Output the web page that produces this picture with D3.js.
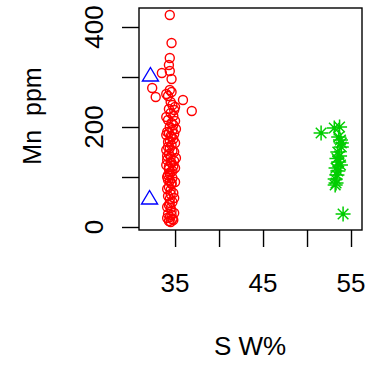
<!DOCTYPE html>
<html>
<head>
<meta charset="utf-8">
<script src="https://cdn.jsdelivr.net/npm/d3@7"></script>
<style>
  body { margin: 0; background: #fff; }
  text { font-family: "Liberation Sans", Arial, sans-serif; fill: #000; }
</style>
</head>
<body>
<svg id="chart" width="369" height="366"></svg>
<script>
// red circles (group 1)
const redPts = [
  [34.4,424],[34.6,368],[34.4,338],[34.3,324],[33.5,308],[34.4,312],[34.6,296],
  [32.4,278],[32.8,260],[34.4,274],[35.9,254],[36.9,232],[34.2,262],[34.5,250],
  [34.7,244],[34.3,236],[34.5,228],[34.8,222],[34.2,214],[34.6,208],[34.4,200],
  [34.7,194],[34.3,188],[34.5,182],[34.8,176],[34.2,170],[34.6,164],[34.4,158],
  [34.7,152],[34.3,146],[34.5,140],[34.1,134],[34.6,128],[34.8,122],[34.3,116],
  [34.5,110],[34.2,104],[34.7,98],[34.4,92],[34.6,86],[34.3,80],[34.5,74],
  [34.8,68],[34.2,62],[34.4,56],[34.7,50],[34.3,44],[34.5,38],[34.6,32],
  [34.2,26],[34.4,20],[34.7,16],[34.3,12],[34.5,10],[34.8,14],[34.6,180],
  [34.4,172],[34.2,160],[34.9,150],[34.1,142],[34.5,130],[34.3,120],[34.7,112],
  [34.4,106],[34.2,94],[34.6,88],[34.5,66],[34.4,48],[34.6,24],[34.9,234],
  [34.1,190],[34.8,204],[34.0,266],[34.6,270],[35.0,240],
  [35.1,196],[34.0,184],[35.0,168],[34.0,154],[35.1,138],[34.0,124],[35.0,118],
  [34.1,100],[35.0,90],[34.1,76],[34.9,58],[34.1,40],[34.9,28],[34.1,18],
  [35.0,212],[34.0,220],[34.9,186],[34.9,132]
]
// green stars (group 2)
const greenPts = [
  [51.6,188],[53.7,200],[53.1,198],[53.8,174],[53.9,168],[53.5,150],[53.7,142],
  [53.4,137],[53.6,130],[53.8,124],[53.3,118],[53.5,112],[53.4,104],[53.2,96],
  [53.3,88],[53.2,84],[54.1,26],[53.9,160],[53.6,180]
]
// blue triangles (group 3)
const bluePts = [[32.2,304],[32.1,58]]

const xTicks = [35, 40, 45, 50, 55]
const xLabels = [35, 45, 55]
const yTicks = [0, 100, 200, 300, 400]
const yLabels = [0, 200, 400]

const box = { left: 139, right: 362, top: 8, bottom: 230 }

const svg = d3.select('#chart')

const x = d3.scaleLinear().domain([30.9, 56.25]).range([box.left, box.right])
const y = d3.scaleLinear().domain([-6, 438]).range([box.bottom, box.top])

// box
svg.append('rect')
    .attr('x', box.left).attr('y', box.top)
    .attr('width', box.right - box.left).attr('height', box.bottom - box.top)
    .attr('fill', 'none').attr('stroke', '#000').attr('stroke-width', 1.4)

// axes
const xAxis = svg.append('g')
    .attr('transform', `translate(0,${box.bottom})`)
    .call(d3.axisBottom(x).tickValues(xTicks).tickSize(17).tickFormat(''))
xAxis.select('.domain').remove()
xAxis.selectAll('line').attr('stroke', '#000').attr('stroke-width', 1.4)

const yAxis = svg.append('g')
    .attr('transform', `translate(${box.left},0)`)
    .call(d3.axisLeft(y).tickValues(yTicks).tickSize(17).tickFormat(''))
yAxis.select('.domain').remove()
yAxis.selectAll('line').attr('stroke', '#000').attr('stroke-width', 1.4)

svg.selectAll('.xlab')
    .data(xLabels)
    .join('text')
        .attr('class', 'xlab')
        .attr('x', d => x(d))
        .attr('y', 292)
        .attr('text-anchor', 'middle')
        .attr('font-size', '26px')
        .text(d => d)

svg.selectAll('.ylab')
    .data(yLabels)
    .join('text')
        .attr('class', 'ylab')
        .attr('transform', d => `translate(103,${y(d)}) rotate(-90)`)
        .attr('text-anchor', 'middle')
        .attr('font-size', '26px')
        .text(d => d)

svg.append('text')
    .attr('x', 250).attr('y', 355)
    .attr('text-anchor', 'middle')
    .attr('font-size', '26px')
    .text('S W%')

svg.append('text')
    .attr('transform', 'translate(41,116) rotate(-90)')
    .attr('text-anchor', 'middle')
    .attr('font-size', '25px')
    .style('white-space', 'pre')
    .text('Mn  ppm')

// points
svg.append('g').selectAll('circle')
    .data(redPts)
    .join('circle')
        .attr('cx', d => x(d[0]))
        .attr('cy', d => y(d[1]))
        .attr('r', 4.5)
        .attr('fill', 'none')
        .attr('stroke', '#ff0000')
        .attr('stroke-width', 1.4)

svg.append('g').selectAll('path')
    .data(bluePts)
    .join('path')
        .attr('transform', d => `translate(${x(d[0])},${y(d[1])})`)
        .attr('d', 'M0,-7.5 L8,6 L-8,6 Z')
        .attr('fill', 'none')
        .attr('stroke', '#0000ff')
        .attr('stroke-width', 1.4)

const s = 7.5, t = 5.3
svg.append('g').selectAll('path')
    .data(greenPts)
    .join('path')
        .attr('transform', d => `translate(${x(d[0])},${y(d[1])})`)
        .attr('d', `M${-s},0H${s}M0,${-s}V${s}M${-t},${-t}L${t},${t}M${-t},${t}L${t},${-t}`)
        .attr('fill', 'none')
        .attr('stroke', '#00cd00')
        .attr('stroke-width', 1.5)
</script>
</body>
</html>
